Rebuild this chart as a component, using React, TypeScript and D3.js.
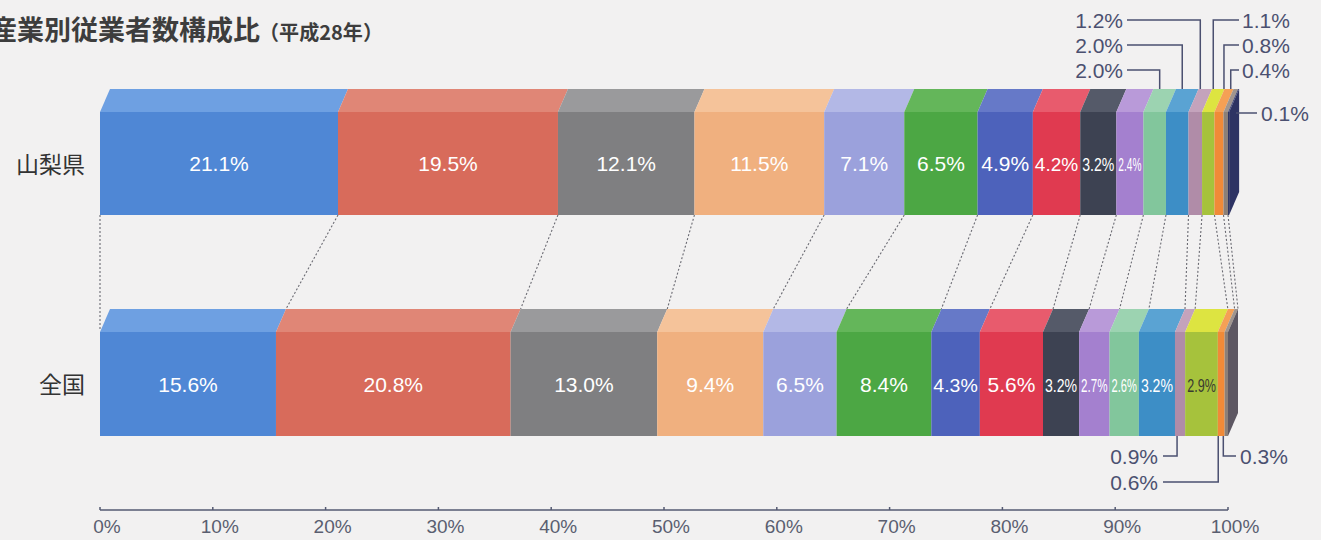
import React from 'react';
import * as d3 from 'd3';

// ---- data ----
const rowLabels = ['山梨県', '全国'];
const yamanashiValues = [21.1, 19.5, 12.1, 11.5, 7.1, 6.5, 4.9, 4.2, 3.2, 2.4, 2.0, 2.0, 1.2, 1.1, 0.8, 0.4, 0.1];
const zenkokuValues = [15.6, 20.8, 13.0, 9.4, 6.5, 8.4, 4.3, 5.6, 3.2, 2.7, 2.6, 3.2, 0.9, 2.9, 0.6, 0.3, 0];
const axisTicks = [0, 10, 20, 30, 40, 50, 60, 70, 80, 90, 100];

// indices of segments labelled inside each bar
const yamanashiInside = [0, 1, 2, 3, 4, 5, 6, 7, 8, 9];
const zenkokuInside = [0, 1, 2, 3, 4, 5, 6, 7, 8, 9, 10, 11, 13];
const darkLabelSegs = [13];

// callouts for small segments: segment index, side, level
const yamanashiCallouts = [
  { seg: 12, side: 'left', level: 0 },
  { seg: 11, side: 'left', level: 1 },
  { seg: 10, side: 'left', level: 2 },
  { seg: 13, side: 'right', level: 0 },
  { seg: 14, side: 'right', level: 1 },
  { seg: 15, side: 'right', level: 2 },
  { seg: 16, side: 'end', level: 0 },
];
const zenkokuCallouts = [
  { seg: 12, side: 'left', level: 0 },
  { seg: 14, side: 'left', level: 1 },
  { seg: 15, side: 'right', level: 0 },
];

// ---- styles ----
const frontColors = [
  '#4f87d5', '#d86b5b', '#7f7f81', '#f0b07f', '#9ba1dc', '#4ca744', '#4d62bb', '#e03a50',
  '#3d4252', '#a480cf', '#82c69c', '#3d8ec6', '#b08ca8', '#a6c23c', '#f08a38', '#8b8079', '#2d3363',
];
const topColors = [
  '#6ea0e2', '#e08676', '#9a9a9c', '#f5c39a', '#b3b8e6', '#64b65a', '#6679c8', '#e85b6d',
  '#555a69', '#b99ad9', '#9cd3b1', '#5aa3d3', '#c4a3bc', '#dde441', '#f5a055', '#a0958e', '#454b78',
];
const sideColors = ['#2d3363', '#5d5762'];

const W = 1321;
const H = 540;
const DX = 10;
const DY = 23;
const frontTop = [112, 332];
const frontBottom = [215, 436];
const LABEL_FONT = '"Liberation Sans", Arial, sans-serif';
const CJK_FONT = '"Noto Sans CJK JP", "Noto Sans", sans-serif';
const calloutColor = '#4b5070';

let measureCtx: CanvasRenderingContext2D | null = null;
function textWidth(t: string, size: number) {
  if (!measureCtx) measureCtx = document.createElement('canvas').getContext('2d');
  if (!measureCtx) return t.length * size * 0.55;
  measureCtx.font = `${size}px ${LABEL_FONT}`;
  return measureCtx.measureText(t).width;
}

const fmt = (v: number) => `${v.toFixed(1)}%`;

export default function App() {
  const x = d3.scaleLinear().domain([0, 100]).range([100, 1228]);
  const series = [yamanashiValues, zenkokuValues];
  const insides = [yamanashiInside, zenkokuInside];

  const stacks = series.map((vals) => {
    let acc = 0;
    return vals.map((v) => {
      const s = acc;
      acc += v;
      return { start: s, end: acc, value: v };
    });
  });

  const bars = stacks.map((segs, r) => {
    const ft = frontTop[r];
    const fb = frontBottom[r];
    const bt = ft - DY;
    const last = segs[segs.length - 1];
    const xr = x(Math.max(last.end, 100));
    return (
      <g key={`row${r}`}>
        {segs.map((s, i) => {
          if (s.value <= 0) return null;
          const x0 = x(s.start);
          const x1 = x(s.end);
          return (
            <g key={i}>
              <polygon
                points={`${x0},${ft} ${x0 + DX},${bt} ${x1 + DX},${bt} ${x1},${ft}`}
                fill={topColors[i]}
              />
              <rect x={x0} y={ft} width={x1 - x0} height={fb - ft} fill={frontColors[i]} />
            </g>
          );
        })}
        <polygon
          points={`${xr},${ft} ${xr + DX},${bt} ${xr + DX},${fb - DY} ${xr},${fb}`}
          fill={sideColors[r]}
        />
        {insides[r].map((i) => {
          const s = segs[i];
          const x0 = x(s.start);
          const x1 = x(s.end);
          const w = x1 - x0;
          const t = fmt(s.value);
          const tw = textWidth(t, 21);
          const narrow = tw > w - 4;
          const fs = narrow ? 19 : 21;
          const fit = narrow ? w - 4 : undefined;
          const dark = r === 1 && darkLabelSegs.includes(i);
          return (
            <text
              key={`l${i}`}
              x={(x0 + x1) / 2}
              y={(ft + fb) / 2 + 7.5}
              textAnchor="middle"
              fontFamily={LABEL_FONT}
              fontSize={fs}
              fill={dark ? '#3a3a30' : '#ffffff'}
              textLength={fit}
              lengthAdjust={fit ? 'spacingAndGlyphs' : undefined}
            >
              {t}
            </text>
          );
        })}
        <text
          x={85}
          y={(ft + fb) / 2 + 9}
          textAnchor="end"
          fontFamily={CJK_FONT}
          fontSize={23}
          fill="#333"
        >
          {rowLabels[r]}
        </text>
      </g>
    );
  });

  // dotted connectors
  const connectors = stacks[0].map((s, k) => {
    const xa = x(s.start);
    const nb = stacks[1][k];
    const xb = k === 0 ? x(nb.start) : x(nb.start) + DX;
    const yb = k === 0 ? frontTop[1] - 2 : frontTop[1] - DY;
    return (
      <line
        key={`c${k}`}
        x1={xa}
        y1={frontBottom[0]}
        x2={xb}
        y2={yb}
        stroke="#6a6a72"
        strokeWidth={1.1}
        strokeDasharray="2,2"
      />
    );
  });

  // top callouts (Yamanashi)
  const topLevels = [20, 45, 70];
  const yTop = frontTop[0] - DY;
  const topCallouts = yamanashiCallouts.map((c, k) => {
    const s = stacks[0][c.seg];
    const t = fmt(s.value);
    if (c.side === 'end') {
      const yy = frontTop[0] + 1;
      const xs = x(100) + DX;
      return (
        <g key={`tc${k}`}>
          <line x1={xs - 2} y1={yy} x2={1257} y2={yy} stroke={calloutColor} strokeWidth={1.5} />
          <text x={1261} y={yy + 7.5} fontFamily={LABEL_FONT} fontSize={21} fill={calloutColor}>
            {t}
          </text>
        </g>
      );
    }
    const xc = (x(s.start) + x(s.end)) / 2 + DX / 2;
    const ly = topLevels[c.level];
    if (c.side === 'left') {
      return (
        <g key={`tc${k}`}>
          <polyline
            points={`1127,${ly} ${xc},${ly} ${xc},${yTop}`}
            fill="none"
            stroke={calloutColor}
            strokeWidth={1.5}
          />
          <text x={1123} y={ly + 7.5} textAnchor="end" fontFamily={LABEL_FONT} fontSize={21} fill={calloutColor}>
            {t}
          </text>
        </g>
      );
    }
    return (
      <g key={`tc${k}`}>
        <polyline
          points={`${xc},${yTop} ${xc},${ly} 1239,${ly}`}
          fill="none"
          stroke={calloutColor}
          strokeWidth={1.5}
        />
        <text x={1242} y={ly + 7.5} fontFamily={LABEL_FONT} fontSize={21} fill={calloutColor}>
          {t}
        </text>
      </g>
    );
  });

  // bottom callouts (national)
  const botLevels = [456, 482];
  const yBot = frontBottom[1];
  const botCallouts = zenkokuCallouts.map((c, k) => {
    const s = stacks[1][c.seg];
    const t = fmt(s.value);
    const xc = (x(s.start) + x(s.end)) / 2 - 3;
    const ly = botLevels[c.level];
    if (c.side === 'left') {
      return (
        <g key={`bc${k}`}>
          <polyline
            points={`${xc},${yBot} ${xc},${ly} 1163,${ly}`}
            fill="none"
            stroke={calloutColor}
            strokeWidth={1.5}
          />
          <text x={1158} y={ly + 7.5} textAnchor="end" fontFamily={LABEL_FONT} fontSize={21} fill={calloutColor}>
            {t}
          </text>
        </g>
      );
    }
    return (
      <g key={`bc${k}`}>
        <polyline
          points={`${xc},${yBot} ${xc},${ly} 1236,${ly}`}
          fill="none"
          stroke={calloutColor}
          strokeWidth={1.5}
        />
        <text x={1240} y={ly + 7.5} fontFamily={LABEL_FONT} fontSize={21} fill={calloutColor}>
          {t}
        </text>
      </g>
    );
  });

  const axisY = 510;
  const axis = (
    <g>
      <line x1={x(0)} y1={axisY} x2={x(100)} y2={axisY} stroke="#555a72" strokeWidth={1.5} />
      {axisTicks.map((t) => (
        <g key={`t${t}`}>
          <line x1={x(t)} y1={axisY - 3} x2={x(t)} y2={axisY} stroke="#555a72" strokeWidth={1.5} />
          <text
            x={x(t) + 7}
            y={533}
            textAnchor="middle"
            fontFamily={LABEL_FONT}
            fontSize={19}
            fill="#5a5e70"
          >
            {`${t}%`}
          </text>
        </g>
      ))}
    </g>
  );

  return (
    <svg
      width={W}
      height={H}
      style={{ position: 'absolute', left: 0, top: 0, display: 'block' }}
      viewBox={`0 0 ${W} ${H}`}
    >
      <rect x={0} y={0} width={W} height={H} fill="#f2f1f1" />
      <text x={-10} y={40} fontFamily={CJK_FONT} fontWeight="bold" fontSize={27} fill="#3d3d3d">
        産業別従業者数構成比
      </text>
      <text
        x={259}
        y={40}
        fontFamily={CJK_FONT}
        fontWeight="bold"
        fontSize={20}
        fill="#3d3d3d"
        textLength={124}
        lengthAdjust="spacingAndGlyphs"
      >
        （平成28年）
      </text>
      {connectors}
      {bars}
      {topCallouts}
      {botCallouts}
      {axis}
    </svg>
  );
}
